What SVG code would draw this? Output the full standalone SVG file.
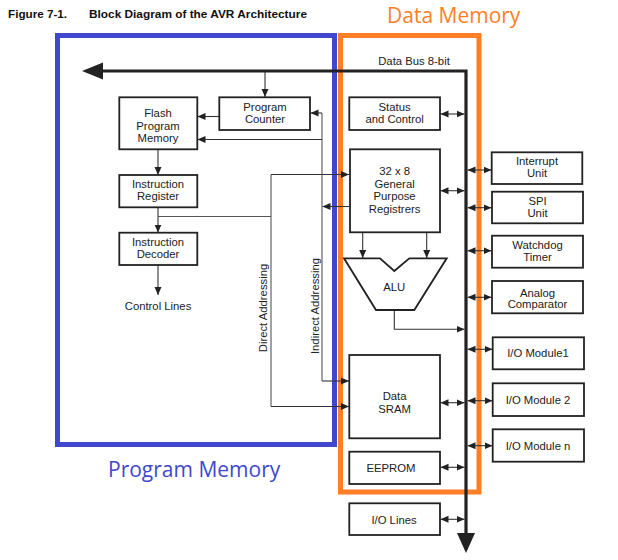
<svg xmlns="http://www.w3.org/2000/svg" width="618" height="560" viewBox="0 0 618 560">
<style>
  .box { fill: #fff; stroke: #222; stroke-width: 1.8; }
  .t { font-family: "Liberation Sans", Arial, sans-serif; font-size: 11.3px; fill: #222; text-anchor: middle; }
  .title { font-family: "Liberation Sans", Arial, sans-serif; font-size: 11.7px; font-weight: bold; fill: #111; }
  .ln { fill: none; stroke: #333; stroke-width: 1.1; }
  .ln2 { fill: none; stroke: #555; stroke-width: 1.1; }
  .arr { fill: none; stroke: #333; stroke-width: 1.1; marker-end: url(#ah); }
  .dbl { fill: none; stroke: #333; stroke-width: 1.1; marker-start: url(#ah); marker-end: url(#ah); }
  .bus { fill: none; stroke: #222; stroke-width: 3.2; }
  .big { font-family: "Open Sans", "Liberation Sans", sans-serif; font-size: 21px; }
</style>
<defs>
  <marker id="ah" viewBox="0 0 8 8" refX="8" refY="4" markerWidth="8" markerHeight="8" markerUnits="userSpaceOnUse" orient="auto-start-reverse">
    <path d="M0,0.5 L8,4 L0,7.5 Z" fill="#222"/>
  </marker>
</defs>

<text class="title" x="8" y="18">Figure 7-1.</text>
<text class="title" x="89" y="18" textLength="218" lengthAdjust="spacingAndGlyphs">Block Diagram of the AVR Architecture</text>

<g id="program-memory-frame">
  <rect x="57.5" y="35.5" width="277" height="409" fill="none" stroke="#3f48cc" stroke-width="5"/>
  <text class="big" x="108" y="477" fill="#3f48cc">Program Memory</text>
</g>
<g id="data-memory-frame">
  <rect x="340.5" y="35.5" width="138.5" height="456.5" fill="none" stroke="#ff7f27" stroke-width="5"/>
  <text class="big" x="387" y="23" fill="#ff7f27">Data Memory</text>
</g>

<g id="connectors">
  <!-- data bus -->
  <polyline class="bus" points="100,71 466,71 466,535"/>
  <polygon points="82,71 103,62.5 103,79.5" fill="#222"/>
  <polygon points="466,553 457,533 475,533" fill="#222"/>
  <text class="t" x="414" y="65">Data Bus 8-bit</text>

  <!-- bus to program counter -->
  <line class="arr" x1="265" y1="72" x2="265" y2="97"/>
  <!-- PC to flash -->
  <line class="arr" x1="219" y1="116.5" x2="197.5" y2="116.5"/>
  <!-- indirect line -->
  <polyline class="ln2" points="322,381 322,113"/>
  <line class="arr" x1="322" y1="113" x2="310.5" y2="113"/>
  <line class="arr" x1="322" y1="139.5" x2="197.5" y2="139.5"/>
  <line class="arr" x1="349" y1="206.5" x2="322.5" y2="206.5"/>
  <line class="arr" x1="322" y1="381" x2="349" y2="381"/>
  <!-- flash to IR -->
  <line class="arr" x1="158" y1="149.5" x2="158" y2="175"/>
  <!-- IR to decoder -->
  <line class="arr" x1="158" y1="207.5" x2="158" y2="232.5"/>
  <!-- decoder to control lines -->
  <line class="arr" x1="158" y1="265" x2="158" y2="295"/>
  <!-- direct addressing -->
  <polyline class="ln2" points="158,216.5 271,216.5"/>
  <polyline class="ln2" points="271,406.5 271,174.5"/>
  <line class="arr" x1="271" y1="174.5" x2="349" y2="174.5"/>
  <line class="arr" x1="271" y1="406.5" x2="349" y2="406.5"/>
  <text class="t" transform="translate(267,308) rotate(-90)">Direct Addressing</text>
  <text class="t" transform="translate(319,306) rotate(-90)">Indirect Addressing</text>

  <!-- GPR to ALU -->
  <line class="arr" x1="362.7" y1="232.5" x2="362.7" y2="258"/>
  <line class="arr" x1="426.7" y1="232.5" x2="426.7" y2="258"/>
  <!-- ALU to bus -->
  <polyline class="arr" points="394.3,310 394.3,329.3 464.5,329.3"/>

  <!-- double arrows to bus -->
  <line class="dbl" x1="440.5" y1="114" x2="464.5" y2="114"/>
  <line class="dbl" x1="440.5" y1="190.7" x2="464.5" y2="190.7"/>
  <line class="dbl" x1="440.5" y1="402.7" x2="464.5" y2="402.7"/>
  <line class="dbl" x1="440.5" y1="467.3" x2="464.5" y2="467.3"/>
  <line class="dbl" x1="440.5" y1="519.3" x2="464.5" y2="519.3"/>

  <line class="dbl" x1="467.5" y1="170" x2="491.5" y2="170"/>
  <line class="dbl" x1="467.5" y1="207.7" x2="491.5" y2="207.7"/>
  <line class="dbl" x1="467.5" y1="250.7" x2="491.5" y2="250.7"/>
  <line class="dbl" x1="467.5" y1="297.3" x2="491.5" y2="297.3"/>
  <line class="dbl" x1="467.5" y1="349.3" x2="492.5" y2="349.3"/>
  <line class="dbl" x1="467.5" y1="400.7" x2="492.5" y2="400.7"/>
  <line class="dbl" x1="467.5" y1="445.7" x2="492.5" y2="445.7"/>
</g>

<g id="program-counter">
  <rect class="box" x="219.3" y="97.3" width="90.7" height="32.7"/>
  <text class="t" x="265" y="111">Program</text>
  <text class="t" x="265" y="123">Counter</text>
</g>
<g id="flash-program-memory">
  <rect class="box" x="119.3" y="97.3" width="78" height="52"/>
  <text class="t" x="158" y="116.7">Flash</text>
  <text class="t" x="158" y="130">Program</text>
  <text class="t" x="158" y="141.7">Memory</text>
</g>
<g id="instruction-register">
  <rect class="box" x="119.3" y="175" width="78" height="32.3"/>
  <text class="t" x="158" y="188.3">Instruction</text>
  <text class="t" x="158" y="200">Register</text>
</g>
<g id="instruction-decoder">
  <rect class="box" x="119.3" y="232.7" width="78" height="32.3"/>
  <text class="t" x="158" y="246.3">Instruction</text>
  <text class="t" x="158" y="258">Decoder</text>
</g>
<g id="control-lines">
  <text class="t" x="158" y="310">Control Lines</text>
</g>
<g id="status-control">
  <rect class="box" x="349.3" y="97.3" width="90.7" height="32.7"/>
  <text class="t" x="394.6" y="111.3">Status</text>
  <text class="t" x="394.6" y="123">and Control</text>
</g>
<g id="gpr">
  <rect class="box" x="350" y="149.3" width="90" height="83"/>
  <text class="t" x="394.6" y="175">32 x 8</text>
  <text class="t" x="394.6" y="188.3">General</text>
  <text class="t" x="394.6" y="200">Purpose</text>
  <text class="t" x="394.6" y="213.3">Registrers</text>
</g>
<g id="alu">
  <polygon class="box" points="344,258.3 380,258.3 394.3,271 409.3,258.3 446.7,258.3 414.3,310 376,310"/>
  <text class="t" x="394.3" y="290.7">ALU</text>
</g>
<g id="data-sram">
  <rect class="box" x="349.3" y="355" width="90.7" height="83.3"/>
  <text class="t" x="394.6" y="400">Data</text>
  <text class="t" x="394.6" y="413">SRAM</text>
</g>
<g id="eeprom">
  <rect class="box" x="349.3" y="451.7" width="90.7" height="32.3"/>
  <text class="t" x="391" y="471.7">EEPROM</text>
</g>
<g id="io-lines">
  <rect class="box" x="349.3" y="503.3" width="90.7" height="31.7"/>
  <text class="t" x="394" y="524">I/O Lines</text>
</g>
<g id="interrupt-unit">
  <rect class="box" x="491.7" y="152.3" width="90.6" height="31.7"/>
  <text class="t" x="537" y="165.3">Interrupt</text>
  <text class="t" x="537" y="177.3">Unit</text>
</g>
<g id="spi-unit">
  <rect class="box" x="492" y="191.7" width="91" height="31.6"/>
  <text class="t" x="537.5" y="205">SPI</text>
  <text class="t" x="537.5" y="216.7">Unit</text>
</g>
<g id="watchdog-timer">
  <rect class="box" x="492" y="235.7" width="91" height="32"/>
  <text class="t" x="537.5" y="249.3">Watchdog</text>
  <text class="t" x="537.5" y="260.7">Timer</text>
</g>
<g id="analog-comparator">
  <rect class="box" x="492" y="281" width="91" height="32.3"/>
  <text class="t" x="537.5" y="296.7">Analog</text>
  <text class="t" x="537.5" y="308">Comparator</text>
</g>
<g id="io-module-1">
  <rect class="box" x="492.7" y="337.3" width="91.3" height="32"/>
  <text class="t" x="538" y="357.3">I/O Module1</text>
</g>
<g id="io-module-2">
  <rect class="box" x="492.7" y="383.3" width="91.3" height="32.7"/>
  <text class="t" x="538" y="404">I/O Module 2</text>
</g>
<g id="io-module-n">
  <rect class="box" x="492.7" y="429.3" width="91.3" height="32.4"/>
  <text class="t" x="538" y="450">I/O Module n</text>
</g>
</svg>
